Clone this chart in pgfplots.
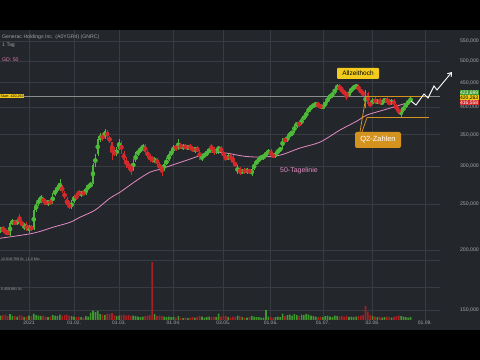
\documentclass[border=0pt]{standalone}
\usepackage{pgfplots}
\pgfplotsset{compat=1.18}
\usepackage{pgfplotstable}
\usepackage{fontspec}
\setmainfont{Liberation Sans}
\usetikzlibrary{arrows.meta}
\definecolor{bg}{HTML}{23262B}
\definecolor{gridc}{HTML}{383C42}
\definecolor{upc}{HTML}{4DB83A}
\definecolor{dnc}{HTML}{D22A2C}
\definecolor{vup}{HTML}{3E9A30}
\definecolor{vdn}{HTML}{A51F24}
\definecolor{mac}{HTML}{E48CC4}
\definecolor{lab}{HTML}{A8A8A8}
\definecolor{startc}{HTML}{8C8C8C}
\definecolor{orng}{HTML}{D4921E}
\definecolor{yel}{HTML}{F2CB1D}

\pgfplotstableread{
i o h l c v vd
-12 221 224 218 222 0.9 1
-11 222 225 219 220 1.0 0
-10 220 223 216 218 1.1 0
-9 218 221 215 217 0.8 0
-8 216 230 214 228 1.2 1
-7 228 233 226 230 0.9 1
-6 230 232 226 227 0.8 0
-5 227 233 226 231 0.7 1
-4 233 238 229 230 1.0 0
-3 230 231 224 225 0.9 0
-2 225 228 221 226 0.6 1
-1 226 229 220 222 0.7 0
0 222 226 218 224 0.9 1
1 224 226 220 221 0.8 0
2 222 245 221 243 1.3 1
3 243 252 241 250 1.0 1
4 250 258 248 256 0.9 1
5 256 262 252 258 0.8 1
6 257 259 251 253 0.9 0
7 253 256 249 250 0.7 0
8 251 255 248 254 0.6 1
9 254 256 249 251 0.7 0
10 251 264 250 262 1.0 1
11 262 270 260 268 0.9 1
12 268 274 265 271 0.8 1
13 271 282 267 274 1.1 1
14 273 275 264 266 0.9 0
15 265 266 256 258 1.0 0
16 257 259 247 249 1.1 0
17 250 254 244 246 0.9 0
18 246 255 244 253 0.8 1
19 253 262 251 260 0.7 1
20 260 264 255 258 0.6 0
21 266 268 260 262 0.7 0
22 262 267 259 265 0.6 1
23 265 268 261 262 0.5 0
24 263 272 262 270 0.8 1
25 270 276 268 274 0.7 1
26 274 278 270 276 1.5 1
27 277 305 276 302 1.9 1
28 303 318 300 315 1.6 1
29 318 345 316 342 1.8 1
30 342 352 338 348 1.2 1
31 348 352 340 344 1.1 0
32 344 360 342 357 1.0 1
33 356 358 343 346 1.3 0
34 346 348 336 338 1.2 0
35 337 338 310 322 1.4 0
36 322 329 315 318 1.0 0
37 318 330 315 326 0.8 1
38 327 342 325 338 0.9 1
39 337 340 318 322 1.0 0
40 320 324 306 310 1.1 0
41 310 314 298 302 0.9 0
42 303 308 295 300 1.0 0
43 300 303 288 297 0.8 0
44 296 311 294 308 0.9 1
45 308 322 306 318 0.8 1
46 318 326 315 324 0.7 1
47 324 330 320 327 0.6 1
48 327 335 324 331 0.7 1
49 332 334 320 322 0.8 0
50 322 325 313 316 0.9 0
51 316 319 307 310 1.0 0
52 314 316 305 308 11.6 0
53 308 314 305 311 1.2 1
54 311 312 302 304 0.8 0
55 304 306 295 298 0.9 0
56 298 302 287 296 0.8 0
57 296 306 294 304 0.7 1
58 304 312 302 310 0.6 1
59 310 320 308 318 0.7 1
60 318 326 315 323 0.6 1
61 323 333 321 330 0.7 1
62 330 334 324 327 0.5 0
63 327 342 325 333 0.8 1
64 333 336 326 329 0.5 0
65 329 334 325 331 0.4 1
66 331 335 326 328 0.5 0
67 328 333 325 330 0.4 1
68 330 334 326 327 0.5 0
69 328 331 322 324 0.6 0
70 325 330 321 328 0.5 1
71 328 331 322 323 0.6 0
72 322 325 310 314 0.8 0
73 313 318 308 316 0.7 1
74 316 321 312 318 0.5 1
75 318 324 316 322 0.6 1
76 322 328 320 326 0.7 1
77 331 334 324 326 0.6 0
78 326 330 318 320 0.7 0
79 321 328 319 326 0.6 1
80 326 331 319 329 1.3 1
81 329 331 320 322 0.7 0
82 322 324 314 316 0.9 0
83 316 318 308 310 0.8 0
84 311 318 309 316 0.6 1
85 316 318 309 311 0.5 0
86 311 318 303 306 0.7 0
87 305 307 299 302 0.6 0
88 292 302 290 299 0.9 1
89 298 300 288 290 0.8 0
90 291 297 289 295 0.6 1
91 295 298 290 292 0.5 0
92 292 298 290 296 0.5 1
93 296 297 289 291 0.6 0
94 290 298 286 296 0.8 1
95 296 306 295 304 0.7 1
96 304 310 302 308 0.6 1
97 308 315 306 312 0.6 1
98 312 317 309 315 0.5 1
99 314 318 310 316 0.5 1
100 316 323 314 320 2.0 1
101 320 326 318 323 0.7 1
102 324 326 314 317 0.6 0
103 317 320 312 315 0.5 0
104 315 322 313 320 0.6 1
105 320 327 318 325 0.7 1
106 325 330 322 327 0.6 1
107 328 345 327 342 1.3 1
108 343 346 336 339 0.8 0
109 339 350 337 347 1.0 1
110 347 355 345 352 1.1 1
111 352 357 348 355 0.9 1
112 355 368 353 366 1.2 1
113 366 372 362 370 1.0 1
114 370 373 364 367 0.8 0
115 368 380 366 378 1.1 1
116 378 385 375 382 1.0 1
117 382 392 380 390 1.2 1
118 390 400 388 398 1.1 1
119 398 404 394 401 0.9 1
120 401 408 398 404 0.8 1
121 404 410 400 407 0.7 1
122 407 409 399 402 0.6 0
123 403 406 397 399 0.7 0
124 399 404 396 402 0.6 1
125 402 412 400 410 0.8 1
126 410 420 408 418 0.9 1
127 418 426 415 424 0.7 1
128 423 430 418 427 0.6 1
129 427 440 425 437 0.9 1
130 437 446 434 443 0.8 1
131 442 446 434 436 0.7 0
132 436 440 428 431 0.8 0
133 431 434 424 427 0.7 0
134 427 430 414 424 0.9 0
135 423 432 420 430 0.6 1
136 430 440 428 438 0.7 1
137 438 445 434 440 0.6 1
138 441 448 436 443 0.7 1
139 443 446 432 434 0.8 0
140 434 437 426 430 0.9 0
141 430 432 421 424 1.0 0
142 400 434 398 430 2.8 0
143 428 430 402 405 1.7 0
144 406 412 400 404 1.0 0
145 405 418 403 416 0.8 1
146 416 419 405 408 0.7 0
147 408 416 405 413 0.6 1
148 413 417 404 407 0.7 0
149 407 414 403 411 0.5 1
150 411 418 408 415 0.6 1
151 415 419 407 409 0.7 0
152 410 415 403 405 0.6 0
153 406 416 404 413 0.5 1
154 413 416 402 404 0.6 0
155 403 405 393 396 0.8 0
156 396 398 387 390 0.9 0
157 389 396 382 393 0.8 1
158 393 402 391 400 0.7 1
159 400 409 398 407 0.6 1
160 407 414 404 411 0.5 1
161 411 420 409 417 0.6 1
}\candles

\pgfplotstableread{
i p
-12.24 212.1
1.7 217.3
10.1 223.7
17.3 229.1
21.5 234.8
27.8 242.9
34.2 257.5
38.4 265.0
45.6 280.9
51.1 292.0
55.3 296.2
69.2 312.5
76.4 321.6
83.5 320.0
90.3 315.5
97.5 314.0
106 317.0
114.3 328.0
122.8 337.6
131.2 357.8
138.4 373.8
142.6 384.8
151.1 396.1
160.8 409.8
}\gd

\pgfplotstableread{
i p
-12.24 420.263
173.42 420.263
}\startline

\begin{document}
\begin{tikzpicture}[x=1bp,y=1bp]
\fill[black] (0bp,0bp) rectangle (480bp,360bp);
\fill[bg] (0bp,30bp) rectangle (480bp,330bp);

% price axis: linear in ln(price), i.e. a logarithmic price scale
\begin{axis}[
  at={(0bp,40bp)}, anchor=south west,
  width=440bp, height=290bp, scale only axis,
  xmin=-12.24, xmax=173.42,
  ymin=4.96214, ymax=6.36337,
  axis line style={draw=none},
  major tick length=0,
  xtick={0,19,38,61,82,102,124,145,167},
  xticklabels={2021,01.02.,01.03.,01.04.,03.05.,01.06.,01.07.,02.08.,01.09.},
  xticklabel style={font=\fontsize{5}{6}\selectfont, text=lab, inner sep=1bp, anchor=north},
  ytick={5.01064,5.29832,5.52146,5.70378,5.85793,5.99146,6.10925,6.21461,6.30992},
  yticklabels={{150,000},{200,000},{250,000},{300,000},{350,000},{400,000},{450,000},{500,000},{550,000}},
  yticklabel pos=right,
  yticklabel style={font=\fontsize{5.2}{6}\selectfont, text=lab, inner sep=0pt, anchor=east, xshift=39bp},
  xmajorgrids, ymajorgrids,
  major grid style={gridc, line width=0.5bp},
]
\addplot[color=startc, line width=0.5bp, forget plot] table[x=i, y expr={ln(\thisrow{p})}] {\startline};
% wicks up (other candles are sent below the visible range)
\addplot[color=upc, only marks, mark=none, forget plot,
  error bars/.cd, y dir=both, y explicit, error mark=none,
  error bar style={color=upc, line width=0.45bp}]
  table[x=i, y expr={\thisrow{c}>=\thisrow{o} ? (ln(\thisrow{h})+ln(\thisrow{l}))/2 : 4.0},
        y error expr={(ln(\thisrow{h})-ln(\thisrow{l}))/2}] {\candles};
% wicks down
\addplot[color=dnc, only marks, mark=none, forget plot,
  error bars/.cd, y dir=both, y explicit, error mark=none,
  error bar style={color=dnc, line width=0.45bp}]
  table[x=i, y expr={\thisrow{c}<\thisrow{o} ? (ln(\thisrow{h})+ln(\thisrow{l}))/2 : 4.0},
        y error expr={(ln(\thisrow{h})-ln(\thisrow{l}))/2}] {\candles};
% bodies up
\addplot[color=upc, only marks, mark=none, forget plot,
  error bars/.cd, y dir=both, y explicit, error mark=none,
  error bar style={color=upc, line width=1.4bp}]
  table[x=i, y expr={\thisrow{c}>=\thisrow{o} ? (ln(\thisrow{o})+ln(\thisrow{c}))/2 : 4.0},
        y error expr={abs(ln(\thisrow{c})-ln(\thisrow{o}))/2}] {\candles};
% bodies down
\addplot[color=dnc, only marks, mark=none, forget plot,
  error bars/.cd, y dir=both, y explicit, error mark=none,
  error bar style={color=dnc, line width=1.4bp}]
  table[x=i, y expr={\thisrow{c}<\thisrow{o} ? (ln(\thisrow{o})+ln(\thisrow{c}))/2 : 4.0},
        y error expr={abs(ln(\thisrow{c})-ln(\thisrow{o}))/2}] {\candles};
% 50-day line
\addplot[mac, line width=0.8bp, smooth, tension=0.5, forget plot] table[x=i, y expr={ln(\thisrow{p})}] {\gd};
\end{axis}

% volume axis
\begin{axis}[
  at={(0bp,40bp)}, anchor=south west,
  width=440bp, height=290bp, scale only axis,
  xmin=-12.24, xmax=173.42,
  ymin=0, ymax=58.09,
  axis line style={draw=none},
  major tick length=0,
  xtick=\empty,
  ytick={6.459881,12.018769}, yticklabels={},
  ymajorgrids,
  major grid style={gridc, line width=0.5bp},
]
\addplot[ybar, bar width=1.6bp, bar shift=0pt, fill=vup, draw=none, forget plot]
  table[x=i, y expr={\thisrow{vd}>0.5 ? \thisrow{v} : 0}] {\candles};
\addplot[ybar, bar width=1.6bp, bar shift=0pt, fill=vdn, draw=none, forget plot]
  table[x=i, y expr={\thisrow{vd}<0.5 ? \thisrow{v} : 0}] {\candles};
\end{axis}

\begin{scope}[shift={(0bp,360bp)}, yscale=-1]
\node[anchor=west, text=lab!110, inner sep=0, font=\fontsize{5.2}{6}\selectfont] at (2,37.5) {Generac Holdings Inc. (A0YGR4) (GNRC)};
\node[anchor=west, text=lab!110, inner sep=0, font=\fontsize{5.2}{6}\selectfont] at (2,45) {1 Tag};
\node[anchor=west, text=mac!90!red, inner sep=0, font=\fontsize{5.2}{6}\selectfont] at (2,59.3) {GD: 50};
\node[anchor=west, fill=yel, text=black, inner sep=0.5bp, font=\fontsize{3.6}{4}\selectfont] at (0,96) {Start: 420,263};
\node[anchor=west, text=lab, inner sep=0, font=\fontsize{3.6}{4}\selectfont] at (1,259.8) {12.018.769 St. | 1,0 Mio};
\node[anchor=west, text=lab, inner sep=0, font=\fontsize{3.6}{4}\selectfont] at (1,288.8) {6.459.881 St.};
\draw[orng, line width=0.9bp] (365,96) -- (429,96);
\draw[orng, line width=0.9bp] (367,117.5) -- (429,117.5);
\draw[orng, line width=0.8bp] (360,132) -- (366,96);
\draw[orng, line width=0.8bp] (362,132) -- (367,117.5);
\node[fill=orng, rounded corners=2bp, text=white, minimum width=46bp, minimum height=16bp, inner sep=0, font=\fontsize{7.5}{8}\selectfont] at (378,140) {Q2-Zahlen};
\node[fill=yel, text=black, rounded corners=1bp, minimum width=42bp, minimum height=11bp, inner sep=0, font=\fontsize{6.5}{7}\selectfont] at (358,73.5) {Allzeithoch};
\node[text=mac, inner sep=0, font=\fontsize{7}{8}\selectfont] at (299,171) {50-Tagelinie};
\draw[white, line width=0.9bp, line join=miter, -{Straight Barb[length=3.5bp, width=5bp]}]
  (411,101) -- (416,105) -- (424,94) -- (428,98) -- (434,86) -- (437,90) -- (452,72);
\node[anchor=east, fill=upc!85!black, text=white, inner sep=0.6bp, font=\fontsize{5}{6}\selectfont] at (479,92.7) {423,699};
\node[anchor=east, fill=yel, text=black, inner sep=0.6bp, font=\fontsize{5}{6}\selectfont] at (479,97.7) {420,263};
\node[anchor=east, fill=dnc, text=white, inner sep=0.6bp, font=\fontsize{5}{6}\selectfont] at (479,102.7) {416,558};
\end{scope}

\pgfresetboundingbox
\useasboundingbox (0bp,0bp) rectangle (480bp,360bp);
\end{tikzpicture}
\end{document}
